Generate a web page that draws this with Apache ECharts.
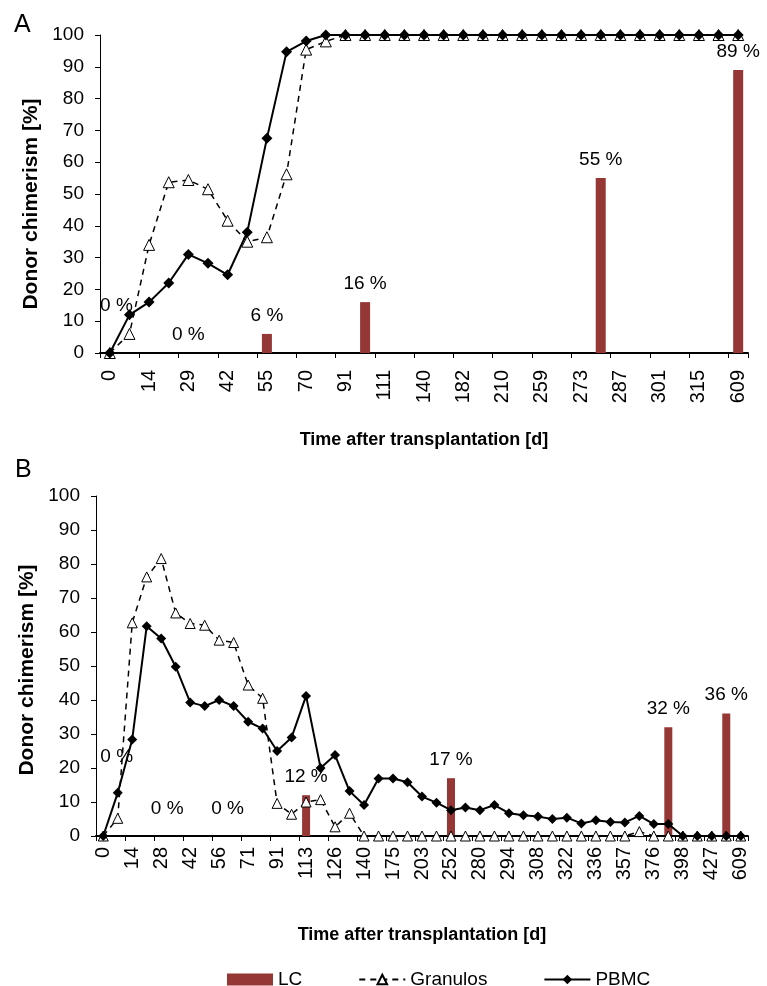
<!DOCTYPE html>
<html>
<head>
<meta charset="utf-8">
<script src="https://cdn.jsdelivr.net/npm/echarts@6/dist/echarts.min.js"></script>
<style>
html,body{margin:0;padding:0;background:#fff;}
#chart{width:767px;height:986px;}
</style>
</head>
<body>
<div id="chart"></div>
<script>
// ---------- Panel A ----------
const tickLabelsA = ['0','14','29','42','55','70','91','111','140','182','210','259','273','287','301','315','609'];
const pbmcA = [0,12,16,22,31,28.2,24.6,38,67.5,94.7,98.1,100,100,100,100,100,100,100,100,100,100,100,100,100,100,100,100,100,100,100,100,100,100];
const granulosA = [0,6,34,53.7,54.4,51.5,41.6,35,36.4,56.2,95.4,98,100,100,100,100,100,100,100,100,100,100,100,100,100,100,100,100,100,100,100,100,100];
const lcA = [null,0,null,null,0,null,null,null,6,null,null,null,null,16,null,null,null,null,null,null,null,null,null,null,null,55,null,null,null,null,null,null,89];

// ---------- Panel B ----------
const tickLabelsB = ['0','14','28','42','56','71','91','113','126','140','175','203','252','280','294','308','322','336','357','376','398','427','609'];
const pbmcB = [0,12.7,28.4,61.7,58.1,49.8,39.3,38.2,40,38.2,33.6,31.6,25,29,41.2,20,23.8,13.2,9.1,16.9,16.9,15.8,11.6,9.8,7.6,8.4,7.6,9.1,6.7,6.1,5.7,5.0,5.4,3.7,4.6,4.1,4.0,5.9,3.5,3.5,0,0,0,0,0];
const granulosB = [0,5.2,62.7,76.2,81.6,65.6,62.5,62,57.6,56.9,44.4,40.5,9.6,6.4,10,10.7,2.7,6.7,0,0,0,0,0,0,0,0,0,0,0,0,0,0,0,0,0,0,0,1.3,0,0,0,0,0,0,0];
const lcB = [null,0,null,null,0,null,null,null,null,0,null,null,null,null,12,null,null,null,null,null,null,null,null,null,17,null,null,null,null,null,null,null,null,null,null,null,null,null,null,32,null,null,null,36,null];

const FONT = 'Liberation Sans, Arial, sans-serif';
const LC_COLOR = '#953735';

function cats(n){ const a=[]; for(let i=0;i<n;i++) a.push(String(i)); return a; }

// label offsets for the "0 %" labels (layout only)
const labelOffsetsA = {1:[-13,-29]};
const labelOffsetsB = {1:[-1,-61], 4:[6,-9], 9:[-6,-9]};

function barData(arr, offs){
  return arr.map((v,i)=>{
    if (v === null) return null;
    const o = offs[i];
    return o ? {value:v, label:{offset:o}} : v;
  });
}

function xAxisCfg(gridIndex, n, labels, labelMargin, nameGap){
  return {
    type:'category', gridIndex, data:cats(n), boundaryGap:true,
    axisLine:{lineStyle:{color:'#000', width:2}},
    axisTick:{show:true, interval:1, length:5, lineStyle:{color:'#000', width:1}},
    axisLabel:{interval:1, rotate:90, color:'#000', fontSize:20, fontFamily:FONT, margin:labelMargin,
      formatter:(val, idx)=> labels[Math.round(idx/2)] },
    name:'Time after transplantation [d]', nameLocation:'middle', nameGap:nameGap,
    nameTextStyle:{color:'#000', fontSize:18, fontWeight:'bold', fontFamily:FONT},
    splitLine:{show:false}
  };
}
function yAxisCfg(gridIndex, nameGap, namePad){
  return {
    type:'value', gridIndex, min:0, max:100, interval:10,
    axisLine:{show:true, lineStyle:{color:'#000', width:1}},
    axisTick:{show:true, length:5, lineStyle:{color:'#000'}},
    axisLabel:{color:'#000', fontSize:19, fontFamily:FONT, margin:16},
    splitLine:{show:false},
    name:'Donor chimerism [%]', nameLocation:'middle', nameRotate:90, nameGap:nameGap,
    nameTextStyle:{color:'#000', fontSize:21, fontWeight:'bold', fontFamily:FONT, padding:namePad}
  };
}
function barSeries(xi, data, offs, w){
  return {
    name:'LC', type:'bar', xAxisIndex:xi, yAxisIndex:xi, data:barData(data, offs),
    barWidth:w, itemStyle:{color:LC_COLOR},
    label:{show:true, position:'top', distance:9, formatter:'{c} %', color:'#000', fontSize:19, fontFamily:FONT},
    z:1
  };
}
function granSeries(xi, data, size){
  return {
    name:'Granulos', type:'line', xAxisIndex:xi, yAxisIndex:xi, data,
    symbol:'triangle', symbolSize:size, showAllSymbol:true,
    lineStyle:{color:'#000', width:1.5, type:[6,5]},
    itemStyle:{color:'#fff', borderColor:'#000', borderWidth:1},
    z:3
  };
}
function pbmcSeries(xi, data, size){
  return {
    name:'PBMC', type:'line', xAxisIndex:xi, yAxisIndex:xi, data,
    symbol:'diamond', symbolSize:size, showAllSymbol:true,
    lineStyle:{color:'#000', width:2},
    itemStyle:{color:'#000', borderColor:'#000', borderWidth:0},
    z:4
  };
}

const chart = echarts.init(document.getElementById('chart'), null, {renderer:'canvas'});
chart.setOption({
  animation:false,
  backgroundColor:'#fff',
  textStyle:{fontFamily:FONT},
  title:[
    {text:'A', left:9, top:8, textStyle:{fontSize:25, fontWeight:'normal', color:'#000', fontFamily:FONT}},
    {text:'B', left:10, top:453, textStyle:{fontSize:25, fontWeight:'normal', color:'#000', fontFamily:FONT}}
  ],
  grid:[
    {left:100, top:35, width:648, height:318},
    {left:96, top:496, width:652, height:340}
  ],
  xAxis:[xAxisCfg(0, pbmcA.length, tickLabelsA, 17, 78), xAxisCfg(1, pbmcB.length, tickLabelsB, 11, 90)],
  yAxis:[yAxisCfg(0, 58, [0,20,0,0]), yAxisCfg(1, 54, [0,8,0,0])],
  legend:{
    left:222, top:965, itemGap:56, itemWidth:46, itemHeight:12,
    textStyle:{color:'#000', fontSize:19, fontFamily:FONT},
    data:[{name:'LC', icon:'rect'}, {name:'Granulos'}, {name:'PBMC'}]
  },
  series:[
    barSeries(0, lcA, labelOffsetsA, 10),
    granSeries(0, granulosA, 11),
    pbmcSeries(0, pbmcA, 11),
    barSeries(1, lcB, labelOffsetsB, 8),
    granSeries(1, granulosB, 10),
    pbmcSeries(1, pbmcB, 10)
  ]
});
</script>
</body>
</html>
